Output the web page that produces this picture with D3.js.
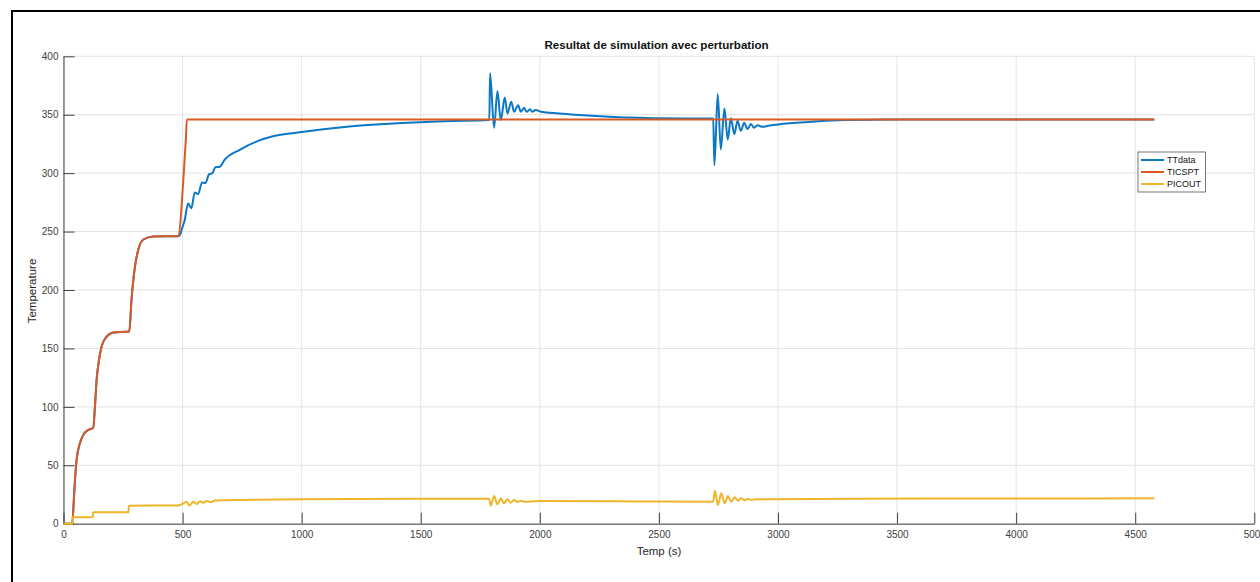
<!DOCTYPE html>
<html>
<head>
<meta charset="utf-8">
<script src="https://cdn.jsdelivr.net/npm/d3@7/dist/d3.min.js"></script>
<style>
  html, body { margin: 0; padding: 0; background: #fff; }
  svg { display: block; }
  text { font-family: "Liberation Sans", Arial, Helvetica, sans-serif; }
</style>
</head>
<body>
<svg id="chart" width="1260" height="582"></svg>
<script>
// Measured temperature (TTdata)
const ttTime = [0, 37, 41, 48, 55, 69, 83, 104, 125, 132, 139, 149, 160, 181, 209, 276, 286, 300, 314, 334, 376, 481,
  488, 500, 509, 523, 537, 551, 565, 582, 596, 611, 625, 638, 656, 677, 740, 810, 879, 991, 1200, 1400, 1600, 1788,
  1791, 1808, 1822, 1836, 1853, 1864, 1880, 1892, 1909, 1920, 1934, 1945, 1959, 1968, 1983, 2004, 2080, 2220, 2360, 2499, 2728,
  2733, 2747, 2760, 2775, 2789, 2802, 2817, 2830, 2844, 2858, 2872, 2886, 2900, 2914, 2932, 2960, 3002, 3142, 3282, 3491, 4000, 4580];
const ttValue = [0, 0, 11.7, 37, 54.6, 68.8, 76, 80.2, 82.2, 100, 123, 140, 151.6, 160, 163.6, 164.5, 193, 220, 234.4, 243, 245.8, 246,
  247, 254, 260, 274, 270, 283.5, 282, 292, 291.5, 299, 300, 305, 305.5, 311.5, 320, 327, 331.5, 335, 340, 342.7, 344.5, 345.5,
  385.4, 338.8, 370.2, 345.4, 364.8, 351.1, 361.1, 352.5, 358.2, 352.5, 355.9, 352.5, 354.6, 352.5, 354, 352.5, 351.1, 349.1, 347.7, 346.9, 346.8,
  306.7, 367.7, 320.3, 355.4, 328.9, 346.9, 333.4, 344.8, 336.2, 343.1, 337.7, 342, 338.8, 341.1, 339.7, 340.5, 341.7, 343.9, 345.4, 346, 346, 346];

// Setpoint (TICSPT)
const spTime = [0, 37, 41, 48, 55, 69, 83, 104, 125, 132, 139, 149, 160, 181, 209, 276, 286, 300, 314, 334, 376, 481, 505, 514, 518, 4580];
const spValue = [0, 0, 11.7, 37, 54.6, 68.8, 76, 80.2, 82.2, 100, 123, 140, 151.6, 160, 163.6, 164.5, 193, 220, 234.4, 243, 245.8, 246, 300, 330, 346, 346];

// Controller output (PICOUT)
const outTime = [0, 38, 39, 123, 124.5, 273, 274.5, 480, 496, 517, 528, 545, 559, 573, 587, 601, 618, 636, 664, 741, 993, 1500, 1787,
  1794, 1808, 1822, 1836, 1850, 1864, 1878, 1892, 1906, 1920, 1934, 1997, 2400, 2728,
  2735, 2748, 2762, 2776, 2790, 2804, 2818, 2832, 2846, 2860, 2874, 2888, 2905, 2974, 3337, 4000, 4580];
const outValue = [0, 0, 5.5, 5.5, 9.8, 9.8, 15.4, 15.6, 16.6, 18.8, 15.4, 18.8, 16.9, 19.2, 18, 19.4, 18.5, 19.8, 20, 20.3, 21, 21.4, 21.4,
  15.4, 23.7, 16.6, 21.7, 17.5, 20.9, 18, 20.3, 18.6, 19.7, 18.8, 19.4, 19.1, 18.8,
  28.3, 16, 26, 17.5, 23.7, 18.8, 22.6, 19.7, 21.7, 20, 21.2, 20.3, 20.9, 20.9, 21.4, 21.6, 21.7];

const xTicks = [0, 500, 1000, 1500, 2000, 2500, 3000, 3500, 4000, 4500, 5000];
const yTicks = [0, 50, 100, 150, 200, 250, 300, 350, 400];
const seriesNames = ["TTdata", "TICSPT", "PICOUT"];
const seriesColors = ["#0b78c6", "#db5a22", "#eeb52a"];

const titleText = "Resultat de simulation avec perturbation";
const xLabel = "Temp (s)";
const yLabel = "Temperature";

const svg = d3.select("#chart");

// outer frame of the figure
svg.append("rect")
  .attr("x", 12).attr("y", 11)
  .attr("width", 1250).attr("height", 580)
  .attr("fill", "#fff").attr("stroke", "#000").attr("stroke-width", 2);

const x = d3.scaleLinear().domain([0, 5000]).range([63.5, 1254.3]);
const y = d3.scaleLinear().domain([0, 400]).range([523.7, 56.3]);

// grid
const grid = svg.append("g").attr("stroke", "#e3e3e3").attr("stroke-width", 1);
grid.selectAll(".gx").data(xTicks).join("line")
  .attr("x1", d => x(d)).attr("x2", d => x(d))
  .attr("y1", y(0)).attr("y2", y(400));
grid.selectAll(".gy").data(yTicks).join("line")
  .attr("x1", x(0)).attr("x2", x(5000))
  .attr("y1", d => y(d)).attr("y2", d => y(d));

// axes
const xAxis = d3.axisBottom(x).tickValues(xTicks).tickFormat(d3.format("d"))
  .tickSizeInner(-11).tickSizeOuter(0).tickPadding(7);
const yAxis = d3.axisLeft(y).tickValues(yTicks).tickFormat(d3.format("d"))
  .tickSizeInner(-11).tickSizeOuter(0).tickPadding(5);

const gx = svg.append("g").attr("transform", `translate(0,${y(0)})`).call(xAxis);
const gy = svg.append("g").attr("transform", `translate(${x(0)},0)`).call(yAxis);
[gx, gy].forEach(g => {
  g.select(".domain").attr("stroke", "#404040").attr("stroke-width", 1);
  g.selectAll(".tick line").attr("stroke", "#404040");
  g.selectAll(".tick text").attr("fill", "#404040").style("font-size", "10px")
    .style("font-family", '"Liberation Sans", Arial, sans-serif');
});

// series
const line = d3.line().x(d => x(d[0])).y(d => y(d[1])).curve(d3.curveMonotoneX);
const series = [
  d3.zip(ttTime, ttValue),
  d3.zip(spTime, spValue),
  d3.zip(outTime, outValue)
];
series.forEach((pts, i) => {
  svg.append("path").datum(pts)
    .attr("d", line)
    .attr("fill", "none")
    .attr("stroke", seriesColors[i])
    .attr("stroke-width", 2)
    .attr("stroke-linejoin", "round");
});

// title and axis labels
svg.append("text").attr("x", 656.5).attr("y", 49.3)
  .attr("text-anchor", "middle").style("font-weight", "bold").style("font-size", "11.6px")
  .attr("fill", "#111").text(titleText);
svg.append("text").attr("x", 659).attr("y", 555)
  .attr("text-anchor", "middle").style("font-size", "11.5px")
  .attr("fill", "#262626").text(xLabel);
svg.append("text").attr("transform", "translate(36,291) rotate(-90)")
  .attr("text-anchor", "middle").style("font-size", "11.5px")
  .attr("fill", "#262626").text(yLabel);

// legend
const lg = svg.append("g");
lg.append("rect").attr("x", 1138).attr("y", 152).attr("width", 67.5).attr("height", 40)
  .attr("fill", "#fff").attr("stroke", "#555").attr("stroke-width", 0.8);
seriesNames.forEach((name, i) => {
  const yy = 160 + i * 12;
  lg.append("line").attr("x1", 1141).attr("x2", 1164).attr("y1", yy).attr("y2", yy)
    .attr("stroke", seriesColors[i]).attr("stroke-width", 2);
  lg.append("text").attr("x", 1167).attr("y", yy).attr("dy", "0.35em")
    .style("font-size", "9px").attr("fill", "#111").text(name);
});
</script>
</body>
</html>
